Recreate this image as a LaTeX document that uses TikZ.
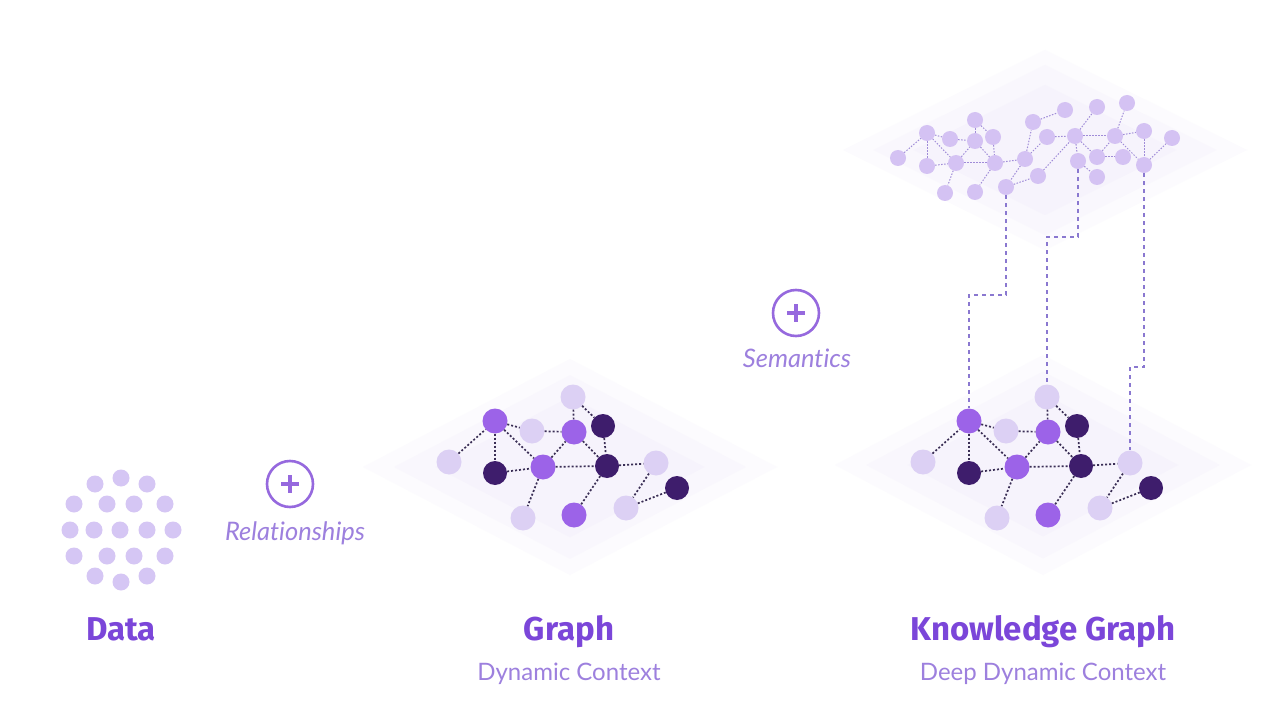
\documentclass[tikz,border=0pt]{standalone}
\usepackage{fontspec}
\setmainfont{Lato}[Ligatures=NoCommon]
\newfontfamily\titlefont{Fira Sans}
\usepackage{tikz}
\usetikzlibrary{arrows,positioning}

\definecolor{lightnode}{HTML}{DCD0F4}
\definecolor{midnode}{HTML}{9C63E8}
\definecolor{darknode}{HTML}{3E1D6C}
\definecolor{datadot}{HTML}{D5C6F4}
\definecolor{topnode}{HTML}{D4C2F3}
\definecolor{edgeink}{HTML}{3A2E55}
\definecolor{topink}{HTML}{A08CD8}
\definecolor{linkink}{HTML}{8A78D0}
\definecolor{titleink}{HTML}{7B46D9}
\definecolor{subink}{HTML}{9D80DE}
\definecolor{plusink}{HTML}{9669DE}
\definecolor{planeout}{HTML}{FCFBFE}
\definecolor{planemid}{HTML}{F9F7FD}
\definecolor{planein}{HTML}{F6F3FC}

% soft diamond plane: centre x, centre y, half width, half height
\newcommand{\plane}[4]{%
  \foreach \s/\c in {1/planeout,0.85/planemid,0.65/planein}
    \fill[\c] ({#1-\s*#3},#2) -- (#1,{#2-\s*#4}) -- ({#1+\s*#3},#2) -- (#1,{#2+\s*#4}) -- cycle;
}

\begin{document}
\begin{tikzpicture}[x=1pt,y=-1pt,
  base node/.style={circle,inner sep=0pt,minimum size=25pt},
  light node/.style={base node,fill=lightnode},
  mid node/.style={base node,fill=midnode},
  dark node/.style={base node,fill=darknode,minimum size=24pt},
  data node/.style={circle,inner sep=0pt,minimum size=17pt,fill=datadot},
  top node/.style={circle,inner sep=0pt,minimum size=16pt,fill=topnode},
  graph edge/.style={draw=edgeink,line width=1.7pt,dash pattern=on 2pt off 2pt},
  top edge/.style={draw=topink,line width=1pt,dash pattern=on 1.5pt off 1.5pt},
  link/.style={draw=linkink,line width=1.6pt,dash pattern=on 4pt off 4pt},
  plus ring/.style={circle,draw=plusink,line width=2.6pt,minimum size=46pt,inner sep=0pt},
  plus bar/.style={draw=plusink,line width=3.6pt},
  title/.style={font=\titlefont\bfseries\fontsize{33}{38}\selectfont,text=titleink,anchor=base},
  subtitle/.style={font=\fontsize{24}{28}\selectfont,text=subink,anchor=base},
  side label/.style={font=\itshape\fontsize{25.5}{30}\selectfont,text=subink,anchor=base}]

  \useasboundingbox[fill=white] (0,0) rectangle (1270,706);

  % planes
  \plane{570}{467}{207}{108}
  \plane{1043}{465}{208}{110}
  \plane{1045}{150}{202}{100}

  % data cloud
  \foreach \x/\y [count=\i] in {95/484,121/478,147/484,
      74/504,107/504,134/504,165/504,
      70/530,94/530,120/530,147/530,173/530,
      74/556,107/556,134/556,165/556,
      95/576,121/582,147/576}
    \node[data node] (d\i) at (\x,\y) {};

  % graph and lower knowledge graph layer
  \foreach \p/\dx in {g/0,k/474}{
    \begin{scope}[xshift=\dx]
      \node[light node] (\p-w) at (449,462) {};
      \node[mid node]   (\p-a) at (495,421) {};
      \node[dark node]  (\p-b) at (495,473) {};
      \node[light node] (\p-c) at (532,431) {};
      \node[mid node]   (\p-d) at (543,467) {};
      \node[light node] (\p-e) at (573,397) {};
      \node[mid node]   (\p-f) at (574,432) {};
      \node[dark node]  (\p-h) at (603,426) {};
      \node[dark node]  (\p-i) at (607,466) {};
      \node[light node] (\p-j) at (656,463) {};
      \node[dark node]  (\p-k) at (677,488) {};
      \node[light node] (\p-l) at (626,508) {};
      \node[mid node]   (\p-m) at (574,515) {};
      \node[light node] (\p-n) at (523,518) {};

      \path[graph edge]
        (\p-w) edge (\p-a)
        (\p-a) edge (\p-b) edge (\p-c) edge (\p-d)
        (\p-b) edge (\p-d)
        (\p-d) edge (\p-n) edge (\p-f) edge (\p-i)
        (\p-c) edge (\p-f)
        (\p-e) edge (\p-f) edge (\p-h)
        (\p-f) edge (\p-i)
        (\p-h) edge (\p-i)
        (\p-i) edge (\p-m) edge (\p-j)
        (\p-j) edge (\p-l)
        (\p-l) edge (\p-k);
    \end{scope}
  }

  % upper knowledge graph layer
  \foreach \x/\y [count=\i] in {898/158,927/133,927/166,950/139,956/163,945/193,
      975/120,975/141,993/137,995/163,975/192,1025/159,1033/122,1065/110,
      1047/137,1038/176,1006/187,1075/136,1097/107,1078/161,1097/157,
      1097/177,1115/136,1127/103,1123/157,1144/131,1144/165,1172/138}
    \node[top node] (t\i) at (\x,\y) {};

  \path[top edge]
    (t1) edge (t2)
    (t2) edge (t3) edge (t4) edge (t5)
    (t3) edge (t5)
    (t5) edge (t6) edge (t10) edge (t8)
    (t4) edge (t8)
    (t7) edge (t8) edge (t9)
    (t9) edge (t10)
    (t8) edge (t10)
    (t10) edge (t11) edge (t12)
    (t12) edge (t13) edge (t15) edge (t17)
    (t13) edge (t14)
    (t17) edge (t16)
    (t16) edge (t18)
    (t15) edge (t18)
    (t18) edge (t19) edge (t20) edge (t23) edge (t21)
    (t20) edge (t22)
    (t21) edge (t23) edge (t25)
    (t23) edge (t24) edge (t26) edge (t27)
    (t26) edge (t27)
    (t27) edge (t28);

  % semantic links between the layers
  \draw[link] (t17) -- ++(0,108) -| (k-a);
  \draw[link] (t20) -- ++(0,76) -| (k-e);
  \draw[link] (t27) -- ++(0,202) -| (k-j);

  % plus signs
  \node[plus ring] (rel) at (290,484) {};
  \node[plus ring] (sem) at (796,313) {};
  \foreach \n in {rel,sem}
    \draw[plus bar] (\n.center) +(-9,0) -- +(9,0) (\n.center) +(0,-9) -- +(0,9);
  \node[side label] (rel-text) at (295,540) {Relationships};
  \node[side label] (sem-text) at (797,367) {Semantics};

  % titles
  \node[title] (data-title) at (121,640) {Data};
  \node[title] (graph-title) at (569,640) {Graph};
  \node[title] (kg-title) at (1043,640) {Knowledge Graph};
  \node[subtitle] (graph-sub) at (569,680) {Dynamic Context};
  \node[subtitle] (kg-sub) at (1043,680) {Deep Dynamic Context};
\end{tikzpicture}
\end{document}
